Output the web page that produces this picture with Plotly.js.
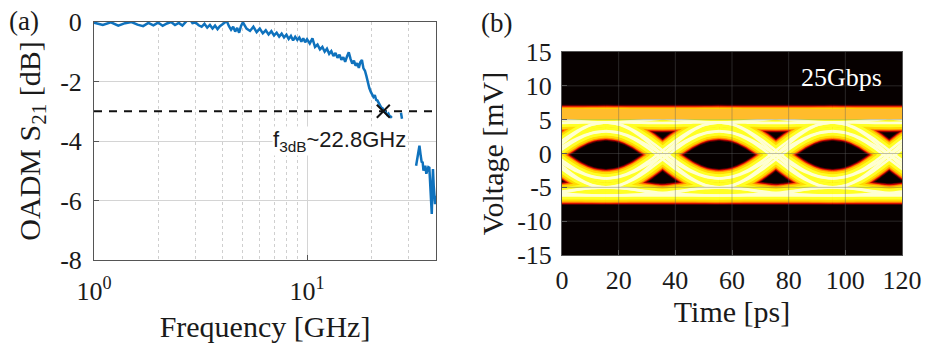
<!DOCTYPE html>
<html><head><meta charset="utf-8">
<script src="https://cdn.plot.ly/plotly-3.0.1.min.js"></script>
<style>html,body{margin:0;padding:0;background:#fff}#chart{width:925px;height:349px}</style>
</head><body><div id="chart"></div>
<script>
// ---------- Panel (a): OADM S21 ----------
const freqGHz = [
 1.0,1.1,1.2,1.3,1.4,1.5,1.6,1.7,1.8,1.9,2.0,2.1,2.2,2.3,2.4,2.5,2.6,2.7,2.8,2.9,
 3.0,3.1,3.2,3.3,3.4,3.5,3.6,3.7,3.8,3.9,4.0,4.1,4.2,4.3,4.4,4.5,4.6,4.7,4.8,4.9,5.0,
 5.2,5.4,5.6,5.8,6.0,6.2,6.4,6.6,6.8,7.0,7.2,7.4,7.6,7.8,8.0,8.2,8.4,8.6,8.8,9.0,9.2,9.4,9.6,9.8,10.0,
 10.3,10.6,10.9,11.2,11.5,11.8,12.1,12.4,12.7,13.0,13.3,13.6,13.9,14.2,14.5,14.8,15.1,15.4,15.7,16.0,
 16.3,16.6,16.9,17.2,17.5,17.8,18.1,18.4,18.7,19.0,19.3,19.6,19.9,20.2,20.5,20.8,21.1,21.4,21.7,22.0,
 22.3,22.6,22.9,23.2,23.5,23.8,24.1,24.4,24.7,25.0,
 null,27.6,27.9,null,
 32.5,32.9,33.3,33.7,34.1,34.5,34.9,35.2,35.5,35.9,36.3,36.7,37.1,37.5,37.9,38.2,38.5,38.8,39.0,39.3,39.6,39.9,40.3
];
const s21dB = [
 -0.02,-0.10,-0.01,-0.12,-0.04,0.00,-0.09,-0.14,-0.03,-0.11,-0.02,-0.13,-0.05,0.00,-0.10,-0.03,-0.12,0.00,0.13,-0.04,
 -0.02,-0.11,-0.16,-0.06,-0.19,-0.10,-0.22,-0.12,-0.24,-0.14,-0.08,-0.02,0.03,-0.14,-0.26,-0.16,-0.32,-0.20,-0.36,-0.13,-0.01,
 -0.22,-0.30,-0.16,-0.34,-0.22,-0.38,-0.28,-0.42,-0.31,-0.45,-0.36,-0.49,-0.39,-0.52,-0.43,-0.57,-0.47,-0.62,-0.50,-0.60,-0.52,-0.66,-0.55,-0.68,-0.58,
 -0.72,-0.55,-0.84,-0.76,-0.92,-0.84,-1.00,-0.90,-1.07,-0.98,-1.14,-1.04,-1.20,-1.10,-1.27,-1.18,-1.34,-1.16,-1.02,-1.24,
 -1.40,-1.30,-1.47,-1.38,-1.54,-1.35,-1.28,-1.56,-1.64,-1.82,-2.06,-2.22,-2.34,-2.42,-2.52,-2.46,-2.62,-2.64,-2.74,-2.80,
 -2.88,-2.90,-2.98,-3.00,-3.06,-3.12,-3.08,-3.16,-3.18,-3.22,
 null,-3.05,-3.25,null,
 -4.83,-4.60,-4.35,-4.16,-4.45,-4.70,-4.72,-5.00,-4.90,-4.83,-5.10,-5.00,-4.88,-4.90,-5.39,-6.00,-6.45,-5.40,-4.94,-5.50,-5.72,-6.12,-5.84
];
const thresholdFreq = [1, 40.3];
const thresholdDB = [-3, -3];
const f3dBGHz = [22.8];
const f3dBLevel = [-3];
const aXTickVals = [1, 10];
const aXTickText = ['10<sup>0</sup>', '10<sup>1</sup>'];
const aXMinor = [2,3,4,5,6,7,8,9,20,30,40];
const aYTickVals = [0,-2,-4,-6,-8];
const aYTickText = ['0','-2','-4','-6','-8'];

// ---------- Panel (b): 25 Gbps eye diagram ----------
const tauPs = [0,5,10,15,20,25,30,35,40];          // within one bit slot
const bitStartsPs = [-24.5, 15.5, 55.5, 95.5];      // sample instants
const topRail = [5.8,5.8,5.8,5.8,5.8,5.8,5.8,5.8,5.8];
const topDown = [5.8,5.75,5.62,5.43,5.2,4.97,4.78,4.65,4.6];
const topUp   = [4.6,4.65,4.78,4.97,5.2,5.43,5.62,5.75,5.8];
const topDip  = [4.6,4.6,4.57,4.53,4.5,4.53,4.57,4.6,4.6];
const fall11  = [3.3,3.03,2.28,1.14,-0.2,-1.54,-2.68,-3.43,-3.7];
const fall12  = [3.3,2.98,2.09,0.74,-0.85,-2.44,-3.79,-4.68,-5.0];
const fall21  = [4.6,4.28,3.39,2.04,0.45,-1.14,-2.49,-3.38,-3.7];
const fall22  = [4.6,4.24,3.2,1.63,-0.2,-2.03,-3.6,-4.64,-5.0];
const rise11  = [-3.7,-3.43,-2.68,-1.54,-0.2,1.14,2.28,3.03,3.3];
const rise21  = [-5.0,-4.68,-3.79,-2.44,-0.85,0.74,2.09,2.98,3.3];
const rise12  = [-3.7,-3.38,-2.49,-1.14,0.45,2.04,3.39,4.28,4.6];
const rise22  = [-5.0,-4.64,-3.6,-2.03,-0.2,1.63,3.2,4.24,4.6];
const botRail = [-6.2,-6.2,-6.2,-6.2,-6.2,-6.2,-6.2,-6.2,-6.2];
const botUp   = [-6.2,-6.17,-6.08,-5.96,-5.85,-5.6,-5.3,-5.08,-5.0];
const botDown = [-5.0,-5.08,-5.3,-5.6,-5.85,-5.96,-6.08,-6.17,-6.2];
const botDip  = [-5.0,-5.1,-5.35,-5.7,-5.95,-5.7,-5.35,-5.1,-5.0];
const eyeSegments = [topRail,topDown,topUp,topDip,fall11,fall12,fall21,fall22,
                     rise11,rise21,rise12,rise22,botRail,botUp,botDown,botDip];
const topRailLevel = 5.82;
const bXTickVals = [0,20,40,60,80,100,120];
const bYTickVals = [15,10,5,0,-5,-10,-15];
const bYTickText = ['15','10','5','0','-5','-10','-15'];

// glow layers of the density image (outer to inner)
const glowColors = ['#500000','#c40000','#ff4a00','#ff9800','#ffdc00','#ffff24','#ffffd2'];
const glowWidths = [19, 17.2, 15.6, 14.2, 12.2, 8.2, 2.6];

// ---------- build ----------
const serif = 'Liberation Serif, Times New Roman, serif';
const ink = '#1a1a1a';

const eyeX = [], eyeY = [];
bitStartsPs.forEach(t0 => {
  eyeSegments.forEach(seg => {
    seg.forEach((v, i) => { eyeX.push(t0 + tauPs[i]); eyeY.push(v); });
    eyeX.push(null); eyeY.push(null);
  });
});

const traces = [];
traces.push({x: thresholdFreq, y: thresholdDB, mode: 'lines', xaxis: 'x', yaxis: 'y',
  line: {color: '#111', width: 1.8, dash: '8px,7px'}, hoverinfo: 'skip', showlegend: false});
traces.push({x: freqGHz, y: s21dB, mode: 'lines', xaxis: 'x', yaxis: 'y', connectgaps: false,
  line: {color: '#0f72bd', width: 2.5}, showlegend: false});
traces.push({x: f3dBGHz, y: f3dBLevel, mode: 'markers', xaxis: 'x', yaxis: 'y',
  marker: {symbol: 'x-thin-open', size: 13, color: '#111', line: {color: '#111', width: 2}}, showlegend: false});

glowColors.forEach((c, k) => {
  traces.push({x: eyeX, y: eyeY, mode: 'lines', xaxis: 'x2', yaxis: 'y2', connectgaps: false,
    line: {color: c, width: glowWidths[k], shape: 'spline', smoothing: 1},
    hoverinfo: 'skip', showlegend: false});
});
traces.push({x: [bXTickVals[0] - 5, bXTickVals[bXTickVals.length - 1] + 5], y: [topRailLevel, topRailLevel],
  mode: 'lines', xaxis: 'x2', yaxis: 'y2', line: {color: '#ffbc2c', width: 10},
  hoverinfo: 'skip', showlegend: false});

const shapes = [{type: 'rect', xref: 'x2 domain', yref: 'y2 domain', x0: 0, x1: 1, y0: 0, y1: 1,
  fillcolor: '#060000', line: {width: 0}, layer: 'below'}];
bXTickVals.slice(1, -1).forEach(v => shapes.push({type: 'line', xref: 'x2', yref: 'y2 domain',
  x0: v, x1: v, y0: 0, y1: 1, line: {color: 'rgba(95,95,95,0.4)', width: 1}, layer: 'above'}));
bYTickVals.slice(1, -1).forEach(v => shapes.push({type: 'line', xref: 'x2 domain', yref: 'y2',
  x0: 0, x1: 1, y0: v, y1: v, line: {color: 'rgba(95,95,95,0.4)', width: 1}, layer: 'above'}));

const tickFont = {family: serif, size: 26, color: ink};
const titleFont = {family: serif, size: 30, color: ink};
const frame = {showline: true, mirror: true, linecolor: '#555', linewidth: 1,
  ticks: 'inside', ticklen: 5, tickcolor: '#555', zeroline: false};

const layout = {
  width: 925, height: 349, margin: {l: 0, r: 0, t: 0, b: 0},
  paper_bgcolor: '#fff', plot_bgcolor: 'rgba(0,0,0,0)', showlegend: false,
  xaxis: Object.assign({}, frame, {
    domain: [94/925, 436/925], anchor: 'y', type: 'log', range: [0, Math.log10(40.3)],
    tickmode: 'array', tickvals: aXTickVals, ticktext: aXTickText, tickfont: tickFont,
    showgrid: true, gridcolor: '#d4d4d4', gridwidth: 1,
    minor: {tickmode: 'array', tickvals: aXMinor, showgrid: true, gridcolor: '#cfcfcf', griddash: 'dot', gridwidth: 1, ticks: ''},
    ticklabelstandoff: 8,
    title: {text: 'Frequency [GHz]', font: titleFont, standoff: 10}
  }),
  yaxis: Object.assign({}, frame, {
    domain: [89/349, 327/349], anchor: 'x', range: [-8, 0],
    tickmode: 'array', tickvals: aYTickVals, ticktext: aYTickText, tickfont: tickFont,
    showgrid: true, gridcolor: '#d4d4d4', gridwidth: 1, ticklabelstandoff: 6,
    title: {text: 'OADM S<sub>21</sub> [dB]', font: titleFont, standoff: 10}
  }),
  xaxis2: Object.assign({}, frame, {
    domain: [562/925, 902/925], anchor: 'y2', range: [0, 120],
    tickmode: 'array', tickvals: bXTickVals, tickfont: tickFont, showgrid: false,
    ticklabelstandoff: 2,
    title: {text: 'Time [ps]', font: titleFont, standoff: 4}
  }),
  yaxis2: Object.assign({}, frame, {
    domain: [94/349, 297/349], anchor: 'x2', range: [-15, 15],
    tickmode: 'array', tickvals: bYTickVals, ticktext: bYTickText, tickfont: tickFont, showgrid: false,
    ticklabelstandoff: 4,
    title: {text: 'Voltage [mV]', font: titleFont, standoff: 4}
  }),
  shapes: shapes,
  annotations: [
    {xref: 'x', yref: 'y', x: Math.log10(14.2), y: -4.0, text: 'f<sub>3dB</sub>~22.8GHz', showarrow: false,
     font: {family: 'Liberation Sans, Arial, sans-serif', size: 22, color: ink}, bgcolor: '#fff', borderpad: 0,
     xanchor: 'center', yanchor: 'middle'},
    {xref: 'x2', yref: 'y2', x: 98.8, y: 11.2, text: '25Gbps', showarrow: false,
     font: {family: serif, size: 26, color: '#fff'}, xanchor: 'center', yanchor: 'middle'},
    {xref: 'paper', yref: 'paper', x: 24/925, y: 1 - 21/349, text: '(a)', showarrow: false,
     font: {family: serif, size: 27, color: ink}, xanchor: 'center', yanchor: 'middle'},
    {xref: 'paper', yref: 'paper', x: 497/925, y: 1 - 23/349, text: '(b)', showarrow: false,
     font: {family: serif, size: 27, color: ink}, xanchor: 'center', yanchor: 'middle'}
  ]
};

Plotly.newPlot('chart', traces, layout, {staticPlot: true, displayModeBar: false});
</script></body></html>
